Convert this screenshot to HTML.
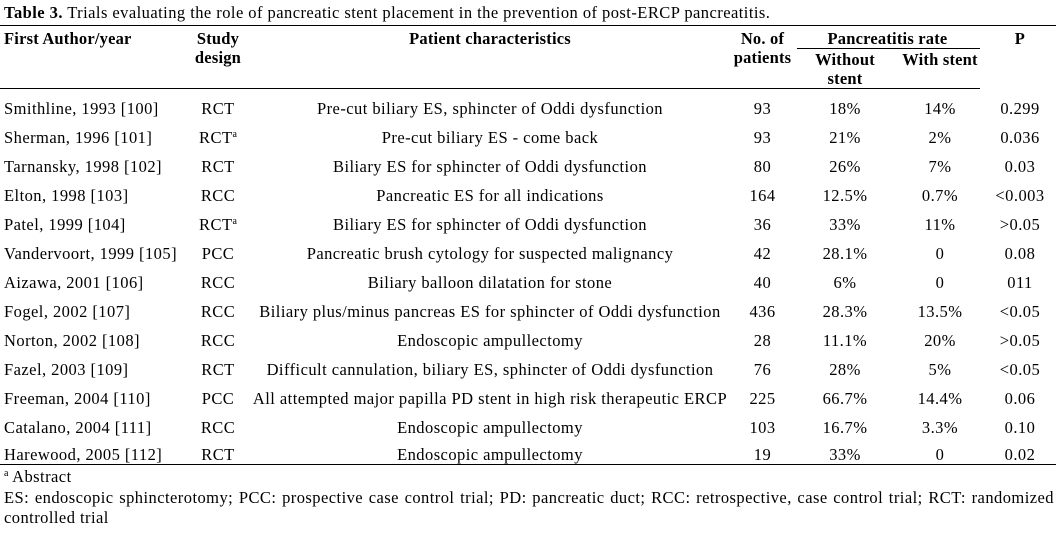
<!DOCTYPE html><html><head><style>
body{margin:0;width:1059px;height:536px;background:#fff;position:relative;font-family:"Liberation Serif",serif;font-size:16.5px;letter-spacing:0.45px;color:#000;overflow:hidden}
.a{position:absolute;white-space:nowrap;line-height:19px}
.c{text-align:center}
.b{font-weight:bold}
.l{position:absolute;height:0;border-top:1.5px solid #000}
sup{font-size:10px;line-height:0;vertical-align:6px;letter-spacing:0}
</style></head><body>
<div class="a" style="left:4px;top:3px"><b>Table 3.</b> Trials evaluating the role of pancreatic stent placement in the prevention of post-ERCP pancreatitis.</div>
<div class="l" style="left:0;width:1056px;top:25px"></div>
<div class="a b" style="left:4px;top:29px;letter-spacing:0.2px">First Author/year</div>
<div class="a b c" style="left:168px;width:100px;top:29px;letter-spacing:0.2px">Study<br>design</div>
<div class="a b c" style="left:290px;width:400px;top:29px;letter-spacing:0.2px">Patient characteristics</div>
<div class="a b c" style="left:720px;width:85px;top:29px;letter-spacing:0.2px">No. of<br>patients</div>
<div class="a b c" style="left:795px;width:185px;top:29px;letter-spacing:0.2px">Pancreatitis rate</div>
<div class="l" style="left:797px;width:183px;top:48px"></div>
<div class="a b c" style="left:800px;width:90px;top:50px;letter-spacing:0.2px">Without<br>stent</div>
<div class="a b c" style="left:890px;width:100px;top:50px;letter-spacing:0.2px">With stent</div>
<div class="a b c" style="left:985px;width:70px;top:29px">P</div>
<div class="l" style="left:0;width:980px;top:88px"></div>
<div class="l" style="left:0;width:1056px;top:464px"></div>
<div class="a" style="left:4px;top:467px"><sup>a</sup> Abstract</div>
<div class="a" style="left:4px;top:488px;width:1050px;white-space:normal;text-align:justify;line-height:20px">ES: endoscopic sphincterotomy; PCC: prospective case control trial; PD: pancreatic duct; RCC: retrospective, case control trial; RCT: randomized controlled trial</div>
<div class="a" style="left:4px;top:99px">Smithline, 1993 [100]</div><div class="a c" style="left:168px;width:100px;top:99px">RCT</div><div class="a c" style="left:230px;width:520px;top:99px">Pre-cut biliary ES, sphincter of Oddi dysfunction</div><div class="a c" style="left:725px;width:75px;top:99px">93</div><div class="a c" style="left:800px;width:90px;top:99px">18%</div><div class="a c" style="left:895px;width:90px;top:99px">14%</div><div class="a c" style="left:985px;width:70px;top:99px">0.299</div>
<div class="a" style="left:4px;top:128px">Sherman, 1996 [101]</div><div class="a c" style="left:168px;width:100px;top:128px">RCT<sup>a</sup></div><div class="a c" style="left:230px;width:520px;top:128px">Pre-cut biliary ES - come back</div><div class="a c" style="left:725px;width:75px;top:128px">93</div><div class="a c" style="left:800px;width:90px;top:128px">21%</div><div class="a c" style="left:895px;width:90px;top:128px">2%</div><div class="a c" style="left:985px;width:70px;top:128px">0.036</div>
<div class="a" style="left:4px;top:157px">Tarnansky, 1998 [102]</div><div class="a c" style="left:168px;width:100px;top:157px">RCT</div><div class="a c" style="left:230px;width:520px;top:157px">Biliary ES for sphincter of Oddi dysfunction</div><div class="a c" style="left:725px;width:75px;top:157px">80</div><div class="a c" style="left:800px;width:90px;top:157px">26%</div><div class="a c" style="left:895px;width:90px;top:157px">7%</div><div class="a c" style="left:985px;width:70px;top:157px">0.03</div>
<div class="a" style="left:4px;top:186px">Elton, 1998 [103]</div><div class="a c" style="left:168px;width:100px;top:186px">RCC</div><div class="a c" style="left:230px;width:520px;top:186px">Pancreatic ES for all indications</div><div class="a c" style="left:725px;width:75px;top:186px">164</div><div class="a c" style="left:800px;width:90px;top:186px">12.5%</div><div class="a c" style="left:895px;width:90px;top:186px">0.7%</div><div class="a c" style="left:985px;width:70px;top:186px">&lt;0.003</div>
<div class="a" style="left:4px;top:215px">Patel, 1999 [104]</div><div class="a c" style="left:168px;width:100px;top:215px">RCT<sup>a</sup></div><div class="a c" style="left:230px;width:520px;top:215px">Biliary ES for sphincter of Oddi dysfunction</div><div class="a c" style="left:725px;width:75px;top:215px">36</div><div class="a c" style="left:800px;width:90px;top:215px">33%</div><div class="a c" style="left:895px;width:90px;top:215px">11%</div><div class="a c" style="left:985px;width:70px;top:215px">&gt;0.05</div>
<div class="a" style="left:4px;top:244px">Vandervoort, 1999 [105]</div><div class="a c" style="left:168px;width:100px;top:244px">PCC</div><div class="a c" style="left:230px;width:520px;top:244px">Pancreatic brush cytology for suspected malignancy</div><div class="a c" style="left:725px;width:75px;top:244px">42</div><div class="a c" style="left:800px;width:90px;top:244px">28.1%</div><div class="a c" style="left:895px;width:90px;top:244px">0</div><div class="a c" style="left:985px;width:70px;top:244px">0.08</div>
<div class="a" style="left:4px;top:273px">Aizawa, 2001 [106]</div><div class="a c" style="left:168px;width:100px;top:273px">RCC</div><div class="a c" style="left:230px;width:520px;top:273px">Biliary balloon dilatation for stone</div><div class="a c" style="left:725px;width:75px;top:273px">40</div><div class="a c" style="left:800px;width:90px;top:273px">6%</div><div class="a c" style="left:895px;width:90px;top:273px">0</div><div class="a c" style="left:985px;width:70px;top:273px">011</div>
<div class="a" style="left:4px;top:302px">Fogel, 2002 [107]</div><div class="a c" style="left:168px;width:100px;top:302px">RCC</div><div class="a c" style="left:230px;width:520px;top:302px">Biliary plus/minus pancreas ES for sphincter of Oddi dysfunction</div><div class="a c" style="left:725px;width:75px;top:302px">436</div><div class="a c" style="left:800px;width:90px;top:302px">28.3%</div><div class="a c" style="left:895px;width:90px;top:302px">13.5%</div><div class="a c" style="left:985px;width:70px;top:302px">&lt;0.05</div>
<div class="a" style="left:4px;top:331px">Norton, 2002 [108]</div><div class="a c" style="left:168px;width:100px;top:331px">RCC</div><div class="a c" style="left:230px;width:520px;top:331px">Endoscopic ampullectomy</div><div class="a c" style="left:725px;width:75px;top:331px">28</div><div class="a c" style="left:800px;width:90px;top:331px">11.1%</div><div class="a c" style="left:895px;width:90px;top:331px">20%</div><div class="a c" style="left:985px;width:70px;top:331px">&gt;0.05</div>
<div class="a" style="left:4px;top:360px">Fazel, 2003 [109]</div><div class="a c" style="left:168px;width:100px;top:360px">RCT</div><div class="a c" style="left:230px;width:520px;top:360px">Difficult cannulation, biliary ES, sphincter of Oddi dysfunction</div><div class="a c" style="left:725px;width:75px;top:360px">76</div><div class="a c" style="left:800px;width:90px;top:360px">28%</div><div class="a c" style="left:895px;width:90px;top:360px">5%</div><div class="a c" style="left:985px;width:70px;top:360px">&lt;0.05</div>
<div class="a" style="left:4px;top:389px">Freeman, 2004 [110]</div><div class="a c" style="left:168px;width:100px;top:389px">PCC</div><div class="a c" style="left:230px;width:520px;top:389px">All attempted major papilla PD stent in high risk therapeutic ERCP</div><div class="a c" style="left:725px;width:75px;top:389px">225</div><div class="a c" style="left:800px;width:90px;top:389px">66.7%</div><div class="a c" style="left:895px;width:90px;top:389px">14.4%</div><div class="a c" style="left:985px;width:70px;top:389px">0.06</div>
<div class="a" style="left:4px;top:418px">Catalano, 2004 [111]</div><div class="a c" style="left:168px;width:100px;top:418px">RCC</div><div class="a c" style="left:230px;width:520px;top:418px">Endoscopic ampullectomy</div><div class="a c" style="left:725px;width:75px;top:418px">103</div><div class="a c" style="left:800px;width:90px;top:418px">16.7%</div><div class="a c" style="left:895px;width:90px;top:418px">3.3%</div><div class="a c" style="left:985px;width:70px;top:418px">0.10</div>
<div class="a" style="left:4px;top:445px">Harewood, 2005 [112]</div><div class="a c" style="left:168px;width:100px;top:445px">RCT</div><div class="a c" style="left:230px;width:520px;top:445px">Endoscopic ampullectomy</div><div class="a c" style="left:725px;width:75px;top:445px">19</div><div class="a c" style="left:800px;width:90px;top:445px">33%</div><div class="a c" style="left:895px;width:90px;top:445px">0</div><div class="a c" style="left:985px;width:70px;top:445px">0.02</div>
</body></html>
